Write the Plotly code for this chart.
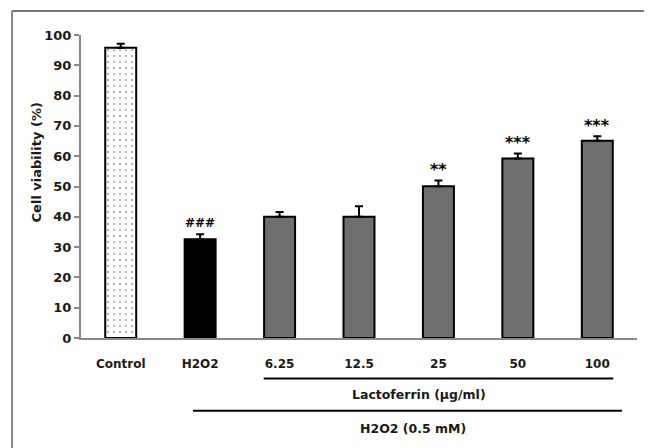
import plotly.graph_objects as go

categories = ["Control", "H2O2", "6.25", "12.5", "25", "50", "100"]
viability = [95.8, 32.6, 40.0, 40.0, 50.1, 59.2, 65.1]
err_upper = [1.3, 1.6, 1.6, 3.5, 1.9, 1.7, 1.5]
signif = ["", "###", "", "", "**", "***", "***"]
yticks = [0, 10, 20, 30, 40, 50, 60, 70, 80, 90, 100]

FONT = "DejaVu Sans"
TXT = "#1a1a1a"

fills = ["white", "black", "#6e6e6e", "#6e6e6e", "#6e6e6e", "#6e6e6e", "#6e6e6e"]
shapes_pat = [".", "", "", "", "", "", ""]

fig = go.Figure()
fig.add_trace(go.Bar(
    x=categories, y=viability, width=0.39,
    marker=dict(color=fills, line=dict(color="black", width=2),
                pattern=dict(shape=shapes_pat, fgcolor="#222", bgcolor="white",
                             size=6, solidity=0.1, fillmode="overlay")),
    error_y=dict(type="data", symmetric=False, array=err_upper,
                 arrayminus=[0] * len(categories), color="black",
                 thickness=2, width=4),
    showlegend=False,
))

for i, (v, e, s) in enumerate(zip(viability, err_upper, signif)):
    if s:
        star = s.startswith("*")
        fig.add_annotation(x=i, y=v + e, xref="x", yref="y", text=f"<b>{s}</b>",
                           showarrow=False, yanchor="bottom",
                           yshift=-1 if star else 2,
                           font=dict(family=FONT, size=16 if star else 12, color="black"))

# grouping lines and labels below the axis
fig.add_shape(type="line", xref="x", yref="paper", x0=1.80, x1=6.20,
              y0=-0.134, y1=-0.134, line=dict(color="black", width=2))
fig.add_shape(type="line", xref="x", yref="paper", x0=0.91, x1=6.31,
              y0=-0.240, y1=-0.240, line=dict(color="black", width=2))
fig.add_annotation(x=3.75, y=-0.218, xref="x", yref="paper",
                   text="<b>Lactoferrin (μg/ml)</b>", showarrow=False,
                   font=dict(family=FONT, size=12.5, color=TXT))
fig.add_annotation(x=3.68, y=-0.330, xref="x", yref="paper",
                   text="<b>H2O2 (0.5 mM)</b>", showarrow=False,
                   font=dict(family=FONT, size=12.5, color=TXT))

# y-axis title
fig.add_annotation(x=-0.097, y=0.578, xref="paper", yref="paper",
                   text="<b>Cell viability (%)</b>", textangle=-90, showarrow=False,
                   font=dict(family=FONT, size=13, color=TXT))

# outer frame (top and left edges)
fig.add_shape(type="line", xref="paper", yref="paper", x0=-0.124, x1=1.05,
              y0=1.079, y1=1.079, line=dict(color="#777", width=2))
fig.add_shape(type="line", xref="paper", yref="paper", x0=-0.124, x1=-0.124,
              y0=1.079, y1=-0.40, line=dict(color="#888", width=2))

fig.update_layout(
    width=652, height=448,
    margin=dict(l=73, r=22.5, t=27, b=118),
    plot_bgcolor="white", paper_bgcolor="white",
    font=dict(family=FONT, color=TXT),
)
fig.update_xaxes(
    type="category", range=[-0.5, 6.5],
    showline=True, linecolor="#888", linewidth=2, ticks="",
    tickfont=dict(family=FONT, size=12, color=TXT, weight="bold"),
    ticklabelstandoff=14,
    showgrid=False, zeroline=False,
)
fig.update_yaxes(
    range=[0, 100], tickvals=yticks, showline=True, linecolor="#888", linewidth=2,
    ticks="outside", ticklen=5, tickcolor="#888", tickwidth=2,
    tickfont=dict(family=FONT, size=13, color=TXT, weight="bold"),
    showgrid=False, zeroline=False,
)

fig.write_html("out.html")
